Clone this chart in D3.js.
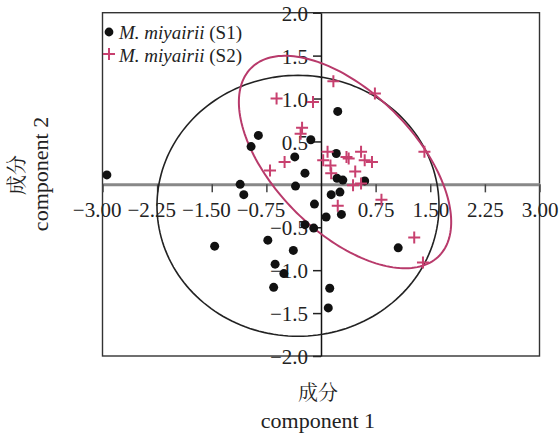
<!doctype html>
<html lang="zh">
<head>
<meta charset="utf-8">
<title>PCA score plot</title>
<style>
  body { margin:0; background:#fff; }
  svg { display:block; font-family:"Liberation Serif","Times New Roman",serif; }
  .tick text { font-size:21px; fill:#222; font-family:"Liberation Serif","Times New Roman",serif; }
  .cjk { font-family:"Noto Serif CJK SC","Noto Sans CJK SC",serif; }
</style>
</head>
<body>
<svg id="chart" width="560" height="434"></svg>

<script src="https://cdn.jsdelivr.net/npm/d3@7"></script>
<script>
// scores, component 1 / component 2
var s1X = [-2.94, 0.23, -0.86, -0.96, -0.14, -0.36, -0.22, 0.21, -1.11, -1.06,
           -0.35, 0.22, 0.30, 0.60, 0.14, 0.26, -0.09, 0.07, 0.28, 1.06,
           -0.22, -0.10, -0.73, -0.38, -0.63, -0.51, -0.65, 0.12, 0.10, -1.46];
var s1Y = [0.11, 0.85, 0.57, 0.44, 0.52, 0.32, 0.13, 0.36, 0.00, -0.12,
           -0.02, 0.07, 0.05, 0.04, -0.12, -0.09, -0.23, -0.38, -0.35, -0.74,
           -0.47, -0.51, -0.65, -0.77, -0.93, -1.04, -1.20, -1.21, -1.44, -0.72];

var s2X = [-0.61, -0.11, -0.26, -0.28, -0.50, -0.70, 0.17, 0.74, 1.42, 1.28,
           1.40, 0.83, 0.23, 0.09, 0.03, 0.13, 0.14, 0.35, 0.38, 0.55,
           0.60, 0.70, 0.47, 0.44, 0.55];
var s2Y = [1.00, 0.96, 0.66, 0.59, 0.26, 0.16, 1.20, 1.06, 0.38, -0.62,
           -0.91, -0.18, -0.25, 0.38, 0.28, 0.22, 0.13, 0.32, 0.30, 0.38,
           0.28, 0.26, 0.15, -0.01, 0.01];

// confidence ellipses: [cx, cy, semi-axis a, semi-axis b, angle in degrees]
var s1Ellipse = [-0.316, -0.25, 1.936, 1.52, 0];
var s2Ellipse = [0.33, 0.26, 1.70, 0.876, -36.9];

var xTicks = [-3, -2.25, -1.5, -0.75, 0.75, 1.5, 2.25, 3];
var yTicks = [-2, -1.5, -1, -0.5, 0.5, 1, 1.5, 2];
var legendNames = ["M. miyairii", "M. miyairii"];
var legendTags = [" (S1)", " (S2)"];

var red = "#c8406f";
var svg = d3.select("#chart");

var x = d3.scaleLinear().domain([-3, 3]).range([102.5, 539.5]);
var y = d3.scaleLinear().domain([-2, 2]).range([356, 12.7]);

// frame
svg.append("rect")
  .attr("x", x(-3)).attr("y", y(2))
  .attr("width", x(3) - x(-3)).attr("height", y(-2) - y(2))
  .attr("fill", "none").attr("stroke", "#333").attr("stroke-width", 1.4);

// x axis through the origin
var gx = svg.append("g")
  .attr("transform", "translate(0," + y(0) + ")")
  .call(d3.axisBottom(x).tickValues(xTicks).tickSize(8).tickSizeOuter(0)
        .tickPadding(10).tickFormat(d3.format(".2f")));
gx.attr("font-family", null).attr("font-size", null);
gx.select(".domain").attr("stroke", "#888").attr("stroke-width", 3);
gx.selectAll(".tick line").attr("stroke", "#444").attr("stroke-width", 1.5);
gx.selectAll(".tick text").filter(function(d){ return d < 0; }).attr("dx", "-0.28em");

// y axis through the origin
var gy = svg.append("g")
  .attr("transform", "translate(" + x(0) + ",0)")
  .call(d3.axisLeft(y).tickValues(yTicks).tickSize(8).tickSizeOuter(0)
        .tickPadding(5).tickFormat(d3.format(".1f")));
gy.attr("font-family", null).attr("font-size", null);
gy.select(".domain").attr("stroke", "#111").attr("stroke-width", 1.5);
gy.selectAll(".tick line").attr("stroke", "#222").attr("stroke-width", 1.5);
gy.selectAll(".tick text").attr("dy", "0.36em");

// ellipses
function ellipsePoints(e) {
  var a = e[4] * Math.PI / 180;
  return d3.range(0, 362, 2).map(function(deg) {
    var t = deg * Math.PI / 180;
    var u = e[2] * Math.cos(t), v = e[3] * Math.sin(t);
    return [e[0] + u * Math.cos(a) - v * Math.sin(a),
            e[1] + u * Math.sin(a) + v * Math.cos(a)];
  });
}
var line = d3.line().x(function(d){ return x(d[0]); }).y(function(d){ return y(d[1]); })
  .curve(d3.curveLinearClosed);

svg.append("path").attr("d", line(ellipsePoints(s1Ellipse)))
  .attr("fill", "none").attr("stroke", "#222").attr("stroke-width", 1.6);
svg.append("path").attr("d", line(ellipsePoints(s2Ellipse)))
  .attr("fill", "none").attr("stroke", "#b83a6b").attr("stroke-width", 2);

// points
svg.append("g").selectAll("circle").data(d3.range(s1X.length)).join("circle")
  .attr("cx", function(i){ return x(s1X[i]); })
  .attr("cy", function(i){ return y(s1Y[i]); })
  .attr("r", 4.5).attr("fill", "#111");

svg.append("g").selectAll("path").data(d3.range(s2X.length)).join("path")
  .attr("d", function(i){
    var cx = x(s2X[i]), cy = y(s2Y[i]);
    return "M" + (cx - 6) + "," + cy + "H" + (cx + 6) + "M" + cx + "," + (cy - 6) + "V" + (cy + 6);
  })
  .attr("stroke", red).attr("stroke-width", 2).attr("fill", "none");

// legend
var leg = svg.append("g");
leg.append("circle").attr("cx", 109).attr("cy", 32).attr("r", 4.4).attr("fill", "#111");
leg.append("path").attr("d", "M103,54H115M109,48V60")
  .attr("stroke", red).attr("stroke-width", 2);
legendNames.forEach(function(n, i) {
  var t = leg.append("text").attr("x", 119).attr("y", 38.5 + i * 23.5)
    .attr("font-size", 19).attr("fill", "#222");
  t.append("tspan").attr("font-style", "italic").text(n);
  t.append("tspan").text(legendTags[i]);
});

// axis titles
svg.append("text").attr("class", "cjk").attr("x", 318).attr("y", 400)
  .attr("text-anchor", "middle").attr("font-size", 20).attr("fill", "#222").text("成分");
svg.append("text").attr("x", 318).attr("y", 428)
  .attr("text-anchor", "middle").attr("font-size", 22).attr("fill", "#222").text("component 1");
svg.append("text").attr("class", "cjk")
  .attr("transform", "translate(24,175) rotate(-90)")
  .attr("text-anchor", "middle").attr("font-size", 20).attr("fill", "#222").text("成分");
svg.append("text")
  .attr("transform", "translate(48,174) rotate(-90)")
  .attr("text-anchor", "middle").attr("font-size", 22).attr("fill", "#222").text("component 2");
</script>
</body>
</html>
